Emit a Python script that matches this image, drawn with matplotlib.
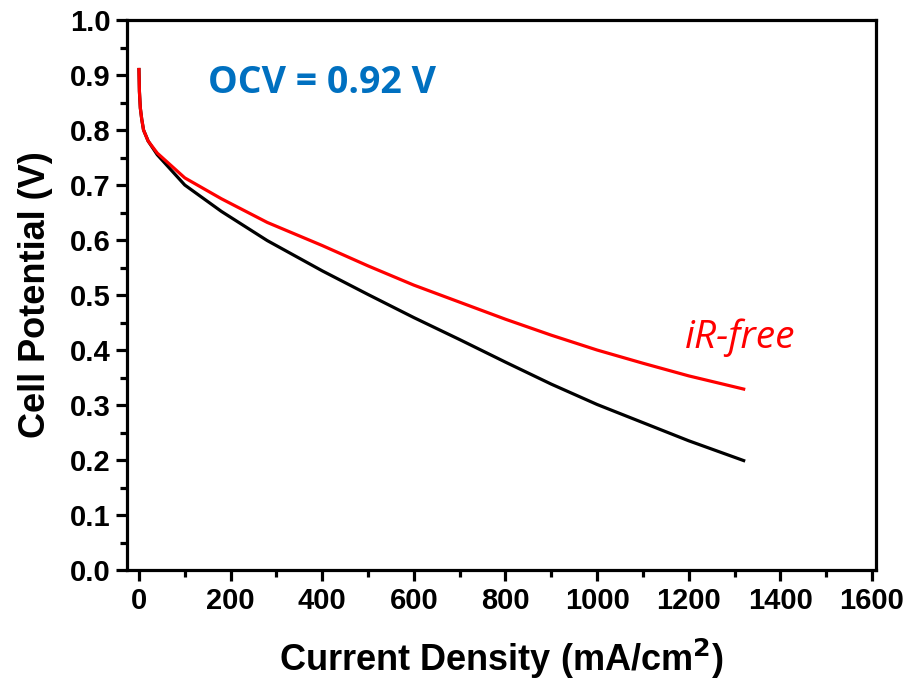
import matplotlib
matplotlib.use('Agg')
import matplotlib.pyplot as plt
from matplotlib.ticker import MultipleLocator

# polarization data (current density in mA/cm2, potential in V)
current = [0, 1, 3, 6, 10, 20, 40, 100, 180, 280, 400, 500, 600, 700, 800,
           900, 1000, 1100, 1200, 1320]
v_cell = [0.91, 0.87, 0.84, 0.82, 0.80, 0.78, 0.755, 0.70, 0.652, 0.599, 0.544,
          0.501, 0.459, 0.419, 0.378, 0.338, 0.301, 0.268, 0.235, 0.199]
v_irfree = [0.91, 0.87, 0.84, 0.82, 0.80, 0.78, 0.758, 0.713, 0.675, 0.632, 0.590,
            0.553, 0.518, 0.487, 0.456, 0.427, 0.400, 0.376, 0.353, 0.329]

plt.rcParams['font.family'] = ['Liberation Sans', 'DejaVu Sans']

fig = plt.figure(figsize=(9.14, 6.83), dpi=100)
ax = fig.add_axes([0.139, 0.1654, 0.819, 0.8053])

ax.plot(current, v_cell, color='black', lw=2.3, zorder=3)
ax.plot(current, v_irfree, color='#ff0000', lw=2.3, zorder=4)

ax.set_xlim(-26, 1608)
ax.set_ylim(0, 1.0)
ax.xaxis.set_major_locator(MultipleLocator(200))
ax.xaxis.set_minor_locator(MultipleLocator(100))
ax.yaxis.set_major_locator(MultipleLocator(0.1))
ax.yaxis.set_minor_locator(MultipleLocator(0.05))
ax.yaxis.set_major_formatter(plt.FormatStrFormatter('%.1f'))

for s in ax.spines.values():
    s.set_linewidth(2.3)
ax.tick_params(which='both', direction='out', width=2.3, top=False, right=False)
ax.tick_params(which='major', length=8, labelsize=21, pad=4)
ax.tick_params(which='minor', length=5)
for lab in ax.get_xticklabels() + ax.get_yticklabels():
    lab.set_fontweight('bold')

ax.set_xlabel('Current Density (mA/cm$^\\mathbf{2}$)', fontsize=26, fontweight='bold', labelpad=16)
ax.set_ylabel('Cell Potential (V)', fontsize=26, fontweight='bold', labelpad=12)

ax.text(150, 0.886, 'OCV = 0.92 V', color='#0070c0', fontsize=27, fontweight='bold',
        family='Open Sans', va='center', ha='left')
ax.text(1192, 0.423, 'iR-free', color='#ff0000', fontsize=28, style='italic',
        family='Open Sans', va='center', ha='left')

fig.savefig('out.png', dpi=100)
